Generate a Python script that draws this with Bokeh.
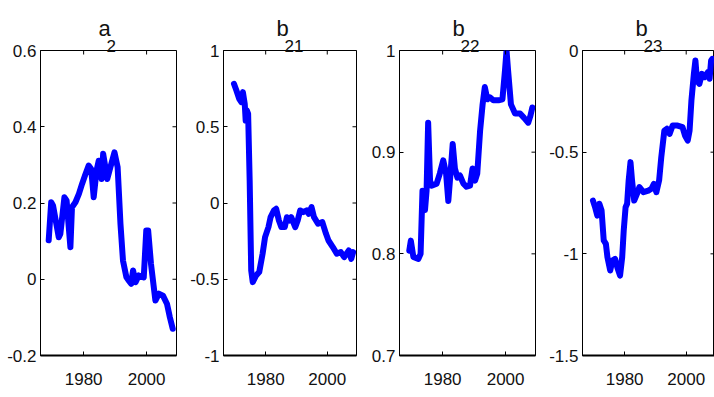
import math
from bokeh.plotting import figure
from bokeh.layouts import row
from bokeh.models import Range1d, FixedTicker, Title
from bokeh.embed import file_html
from bokeh.resources import INLINE

# ---- data ----
years_a2 = [1968.9, 1969.7, 1970.3, 1972.1, 1972.6, 1973.9, 1974.6, 1975.8, 1976.3, 1977.4,
            1978.5, 1979.5, 1980.6, 1981.6, 1982.4, 1983.2, 1984.1, 1984.8, 1985.7, 1986.2,
            1986.9, 1987.5, 1988.5, 1989.8, 1990.8, 1991.7, 1992.5, 1993.6, 1994.3, 1995.1,
            1995.7, 1996.5, 1997.5, 1999.1, 1999.9, 2000.5, 2001.4, 2002.8, 2003.9, 2005.2,
            2006.5, 2007.4, 2008.3]
a2 = [0.102, 0.202, 0.193, 0.110, 0.119, 0.215, 0.206, 0.084, 0.189, 0.202,
      0.224, 0.250, 0.276, 0.298, 0.289, 0.215, 0.285, 0.311, 0.263, 0.329,
      0.294, 0.263, 0.294, 0.333, 0.294, 0.145, 0.049, 0.005, -0.003, -0.012,
      0.023, -0.008, 0.010, 0.005, 0.128, 0.128, 0.040, -0.056, -0.038, -0.043,
      -0.065, -0.100, -0.130]

years_b21 = [1969.7, 1970.5, 1971.4, 1972.1, 1972.6, 1973.2, 1973.5, 1973.9, 1974.3, 1974.8,
             1975.3, 1975.8, 1976.9, 1977.9, 1979.0, 1979.8, 1980.9, 1981.6, 1982.7, 1983.4,
             1984.3, 1985.1, 1986.2, 1986.9, 1987.7, 1988.3, 1989.6, 1990.4, 1991.2, 1992.2,
             1993.3, 1994.0, 1994.9, 1995.7, 1997.0, 1998.4, 1999.6, 2000.4, 2001.8, 2003.1,
             2004.4, 2005.5, 2007.0, 2007.8, 2008.4]
b21 = [0.782, 0.738, 0.683, 0.661, 0.727, 0.650, 0.541, 0.607, 0.585, 0.148,
       -0.442, -0.519, -0.475, -0.453, -0.333, -0.224, -0.158, -0.093, -0.049, -0.038,
       -0.115, -0.158, -0.158, -0.093, -0.115, -0.093, -0.158, -0.115, -0.049, -0.060,
       -0.049, -0.071, -0.027, -0.093, -0.136, -0.125, -0.202, -0.246, -0.289, -0.333,
       -0.322, -0.355, -0.311, -0.366, -0.322]

years_b22 = [1969.4, 1969.9, 1970.7, 1972.3, 1973.0, 1973.6, 1974.4, 1974.9, 1975.4, 1976.0,
             1976.5, 1978.1, 1979.1, 1980.2, 1981.1, 1981.8, 1982.5, 1983.2, 1983.9, 1984.7,
             1985.5, 1986.6, 1987.6, 1988.7, 1989.5, 1990.3, 1991.0, 1991.9, 1992.7, 1993.4,
             1994.2, 1995.0, 1996.1, 1997.7, 1999.0, 1999.8, 2000.3, 2000.8, 2001.7, 2003.0,
             2004.6, 2005.8, 2007.2, 2007.9, 2008.5]
b22 = [0.803, 0.813, 0.797, 0.795, 0.800, 0.862, 0.843, 0.862, 0.929, 0.872,
       0.867, 0.869, 0.879, 0.892, 0.879, 0.852, 0.879, 0.908, 0.884, 0.875,
       0.877, 0.869, 0.866, 0.867, 0.884, 0.872, 0.879, 0.921, 0.947, 0.964,
       0.952, 0.954, 0.951, 0.951, 0.952, 0.980, 1.000, 0.980, 0.947, 0.938,
       0.938, 0.934, 0.929, 0.936, 0.944]

years_b23 = [1969.7, 1970.4, 1971.1, 1971.8, 1972.5, 1973.2, 1973.9, 1974.4, 1975.3, 1976.0,
             1976.9, 1977.6, 1978.5, 1979.2, 1979.7, 1980.3, 1980.8, 1981.3, 1981.9, 1982.4,
             1983.1, 1984.0, 1984.8, 1986.1, 1987.7, 1988.7, 1989.5, 1990.3, 1991.2, 1991.9,
             1992.9, 1993.7, 1994.6, 1995.6, 1997.2, 1998.8, 1999.6, 2000.5, 2001.1, 2001.7,
             2002.5, 2003.0, 2003.5, 2004.3, 2005.1, 2006.0, 2007.0, 2007.6, 2008.1, 2008.5]
b23 = [-0.738, -0.771, -0.812, -0.754, -0.787, -0.934, -0.951, -1.016, -1.082, -1.033,
       -1.025, -1.066, -1.107, -1.016, -0.885, -0.771, -0.754, -0.639, -0.549, -0.639,
       -0.738, -0.705, -0.672, -0.697, -0.689, -0.680, -0.656, -0.697, -0.639, -0.525,
       -0.394, -0.385, -0.410, -0.369, -0.369, -0.377, -0.418, -0.443, -0.394, -0.246,
       -0.115, -0.049, -0.148, -0.164, -0.115, -0.131, -0.107, -0.139, -0.049, -0.041]

x_ticks = [1980, 2000]
x_tick_labels = ["1980", "2000"]

yticks_a2 = [-0.2, 0, 0.2, 0.4, 0.6]
ylabels_a2 = ["-0.2", "0", "0.2", "0.4", "0.6"]
yticks_b21 = [-1, -0.5, 0, 0.5, 1]
ylabels_b21 = ["-1", "-0.5", "0", "0.5", "1"]
yticks_b22 = [0.7, 0.8, 0.9, 1]
ylabels_b22 = ["0.7", "0.8", "0.9", "1"]
yticks_b23 = [-1.5, -1, -0.5, 0]
ylabels_b23 = ["-1.5", "-1", "-0.5", "0"]

names = [("a", "2"), ("b", "21"), ("b", "22"), ("b", "23")]

# ---- styling ----
FONT = "Liberation Sans"
TXT = "#111111"
BLUE = "#0000ff"
X0 = 1966.3
FRAME_W = 136

panels = [
    dict(x=years_a2, y=a2, yr=(-0.2, 0.6), yt=yticks_a2, yl=ylabels_a2, w=187, bl=40, br=11, xe=2009.5),
    dict(x=years_b21, y=b21, yr=(-1, 1), yt=yticks_b21, yl=ylabels_b21, w=179, bl=33, br=10, xe=2009.5),
    dict(x=years_b22, y=b22, yr=(0.7, 1), yt=yticks_b22, yl=ylabels_b22, w=180, bl=33, br=11, xe=2009.5),
    dict(x=years_b23, y=b23, yr=(-1.5, 0), yt=yticks_b23, yl=ylabels_b23, w=168, bl=33, br=0, xe=2009.2),
]


def style_axis(ax, ticks, labels, standoff):
    ax.ticker = FixedTicker(ticks=ticks)
    ax.major_label_overrides = {t: l for t, l in zip(ticks, labels)}
    ax.major_tick_in = 4
    ax.major_tick_out = 0
    ax.minor_tick_line_color = None
    ax.axis_line_color = "black"
    ax.major_tick_line_color = "black"
    ax.major_label_text_font = FONT
    ax.major_label_text_color = TXT
    ax.major_label_text_font_size = "17px"
    ax.major_label_standoff = standoff


figs = []
for (main, sub), pn in zip(names, panels):
    p = figure(width=pn["w"], height=395,
               x_range=Range1d(X0, pn["xe"]), y_range=Range1d(*pn["yr"]),
               output_backend="svg", toolbar_location=None,
               min_border_left=pn["bl"], min_border_right=pn["br"],
               min_border_top=50, min_border_bottom=40)
    p.grid.visible = False
    p.outline_line_color = "black"
    p.outline_line_width = 1
    p.background_fill_color = "white"
    p.border_fill_color = "white"

    style_axis(p.xaxis[0], x_ticks, x_tick_labels, 17)
    p.xaxis[0].axis_line_width = 2
    style_axis(p.yaxis[0], pn["yt"], pn["yl"], 4)

    # titles: letter with subscript stacked just above the frame
    sub_rel = -5 * (len(sub) - 1) + 3
    p.add_layout(Title(text=sub, align="left", offset=FRAME_W / 2 + sub_rel - 5,
                       standoff=-2, text_font=FONT, text_font_size="17px",
                       text_font_style="normal", text_color=TXT), "above")
    p.add_layout(Title(text=main, align="left", offset=FRAME_W / 2 + sub_rel - 13,
                       standoff=-4, text_font=FONT, text_font_size="22px",
                       text_font_style="normal", text_color=TXT), "above")

    p.line(pn["x"], pn["y"], line_color=BLUE, line_width=6, line_join="round", line_cap="round")

    # inward ticks on the top and right edges of the box
    p.scatter(x_ticks, [pn["yr"][1]] * len(x_ticks), marker="dash", size=8,
              angle=math.pi / 2, line_color="black", line_width=1)
    p.scatter([pn["xe"]] * len(pn["yt"]), pn["yt"], marker="dash", size=8,
              line_color="black", line_width=1)
    figs.append(p)

layout = row(*figs, spacing=0)
open("out.html", "w").write(file_html(layout, INLINE))
